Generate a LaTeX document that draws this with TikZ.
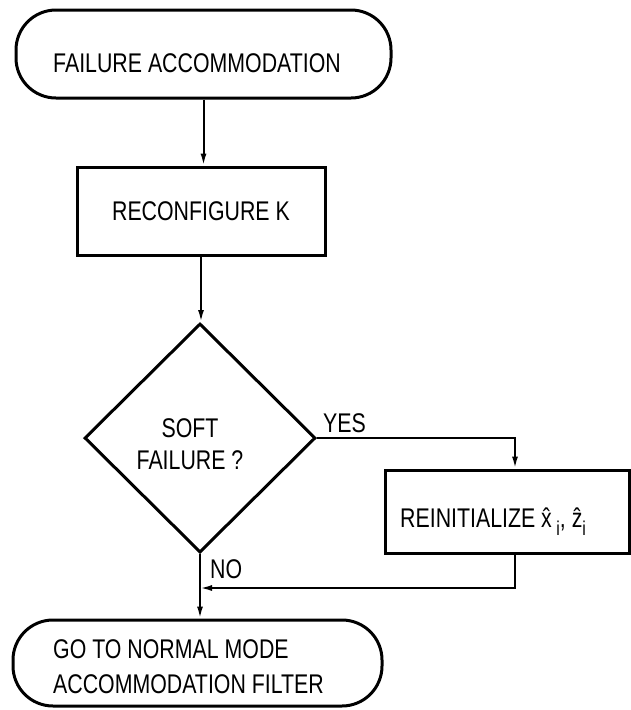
\documentclass[tikz,border=0pt]{standalone}
\usepackage{fontspec}
\setmainfont{Liberation Sans}[FakeStretch=0.79]
\usetikzlibrary{shapes.geometric,arrows.meta}
\newcommand{\lowi}{\raisebox{-8pt}{\fontsize{20}{20}\selectfont i}}
\begin{document}
\begin{tikzpicture}[x=1pt,y=-1pt, font=\fontsize{27}{35}\selectfont,
  box/.style={draw, line width=3pt, inner sep=0pt},
  term/.style={box, rounded corners=40pt},
  conn/.style={line width=2pt},
  arr/.style={conn, -{Latex[length=12pt,width=6pt]}},
  lbl/.style={inner sep=0pt}]
\useasboundingbox (0,0) rectangle (630,710);
% nodes
\node[term, minimum width=375pt, minimum height=88pt] (t1) at (203.5,54) {};
\node[lbl, anchor=base] (t1txt) at (197,72) {FAILURE ACCOMMODATION};
\node[box, minimum width=248pt, minimum height=88pt] (r1) at (201,211) {RECONFIGURE K};
\node[box, diamond, minimum width=231pt, minimum height=229pt] (d) at (200,438) {};
\node[lbl, align=center, font=\fontsize{27}{32}\selectfont] (dtxt) at (190,444) {SOFT\\FAILURE ?};
\node[box, minimum width=244pt, minimum height=83pt] (r2) at (507,511.5) {};
\node[lbl, anchor=base west] (r2txt) at (400,527) {REINITIALIZE \^x\,\lowi, \^z\lowi};
\node[term, minimum width=369pt, minimum height=86pt] (t2) at (197.5,663) {};
\node[lbl, align=left, anchor=west] (t2txt) at (53,667) {GO TO NORMAL MODE\\ACCOMMODATION FILTER};
\node[lbl, anchor=base west] (yes) at (323,432) {YES};
\node[lbl, anchor=base west] (no) at (210,578) {NO};
\coordinate (join) at (200,588);
% connectors
\draw[arr] (t1.south) -- (t1.south |- r1.north);
\draw[arr] (r1.south) -- (r1.south |- d.north);
\draw[arr] (d.east) -| ([xshift=8pt]r2.north);
\draw[arr] ([xshift=8pt]r2.south) |- (join);
\draw[arr] (d.south) -- (d.south |- t2.north);
\end{tikzpicture}
\end{document}
